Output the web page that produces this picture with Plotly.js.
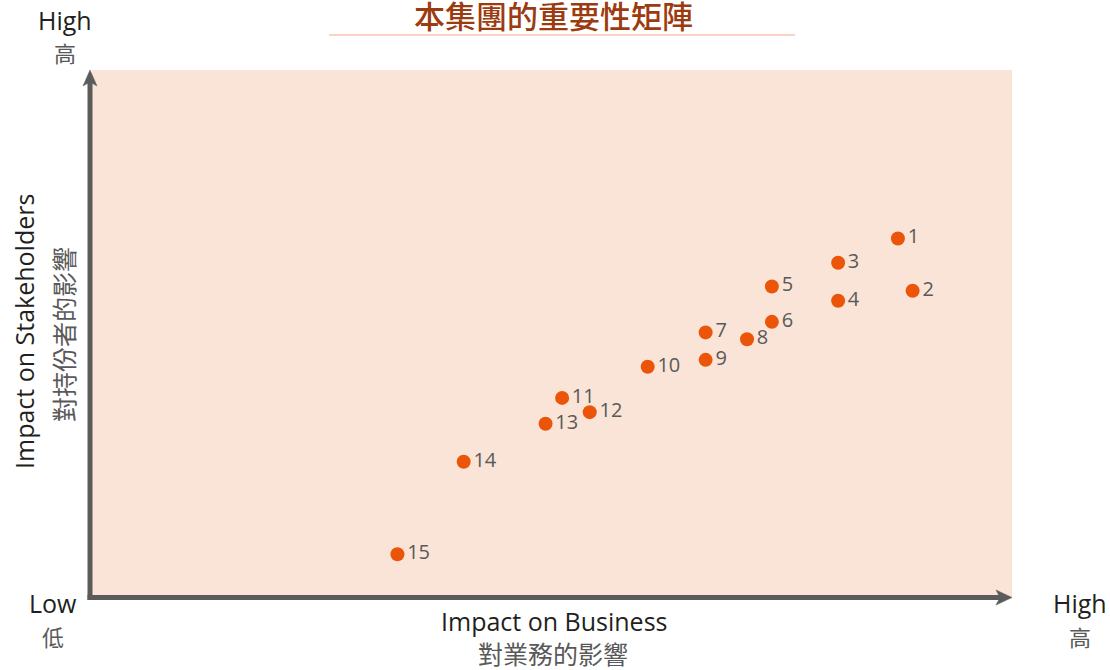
<!DOCTYPE html>
<html>
<head>
<meta charset="utf-8">
<script src="https://cdn.plot.ly/plotly-3.0.1.min.js"></script>
<style>
  html, body { margin: 0; padding: 0; background: #ffffff; }
  #chart { width: 1110px; height: 670px; }
</style>
</head>
<body>
<div id="chart"></div>
<script>
// ---- Data ----
const issueLabels = ['1','2','3','4','5','6','7','8','9','10','11','12','13','14','15'];
const impactOnBusiness = [87.6, 89.2, 81.1, 81.1, 73.9, 73.9, 66.7, 71.2, 66.7, 60.4, 51.1, 54.1, 49.3, 40.4, 33.2];
const impactOnStakeholders = [68.1, 58.2, 63.5, 56.3, 59.0, 52.3, 50.3, 49.0, 45.1, 43.8, 37.9, 35.2, 33.0, 25.8, 8.3];

const titleText = '本集團的重要性矩陣';
const xTitleEn = 'Impact on Business';
const xTitleZh = '對業務的影響';
const yTitleEn = 'Impact on Stakeholders';
const yTitleZh = '對持份者的影響';

// ---- Layout helpers (pixel -> paper) ----
const W = 1110, H = 670;
const L = 92, R = 1012, T = 70, B = 598;
const px = X => (X - L) / (R - L);
const py = Y => (B - Y) / (B - T);

const enFont = 'Open Sans, Noto Sans, sans-serif';
const zhFont = 'Noto Sans CJK TC, Noto Sans CJK SC, sans-serif';
const axisColor = '#5b5b5b';

const trace = {
  type: 'scatter',
  mode: 'markers+text',
  x: impactOnBusiness,
  y: impactOnStakeholders,
  text: issueLabels,
  textposition: 'middle right',
  textfont: { family: enFont, size: 20, color: '#595959' },
  marker: { size: 14, color: '#ea5509' },
  hoverinfo: 'skip',
  cliponaxis: false
};

function ann(X, Y, text, font, extra) {
  return Object.assign({
    xref: 'paper', yref: 'paper', x: px(X), y: py(Y),
    xanchor: 'center', yanchor: 'middle', showarrow: false,
    text: text, font: font
  }, extra || {});
}

const annotations = [
  ann(553, 15, titleText, { family: zhFont, size: 31, color: '#9c3b10', weight: 500 }),
  ann(65, 20, 'High', { family: enFont, size: 25, color: '#231f20' }),
  ann(65, 52, '高', { family: zhFont, size: 22, color: '#595959' }),
  ann(53, 603, 'Low', { family: enFont, size: 25, color: '#231f20' }),
  ann(53, 636, '低', { family: zhFont, size: 22, color: '#595959' }),
  ann(1080, 603, 'High', { family: enFont, size: 25, color: '#231f20' }),
  ann(1080, 636, '高', { family: zhFont, size: 22, color: '#595959' }),
  ann(554, 621, xTitleEn, { family: enFont, size: 25, color: '#231f20' }),
  ann(553, 653, xTitleZh, { family: zhFont, size: 25, color: '#595959' }),
  ann(24, 332, yTitleEn, { family: enFont, size: 25, color: '#231f20' }, { textangle: -90 }),
  ann(63, 335, yTitleZh, { family: zhFont, size: 25, color: '#595959' }, { textangle: -90 })
];

function pathFromPixels(points) {
  return 'M ' + points.map(p => px(p[0]) + ',' + py(p[1])).join(' L ') + ' Z';
}

const shapes = [
  // title underline
  { type: 'line', xref: 'paper', yref: 'paper', x0: px(329), x1: px(795), y0: py(35), y1: py(35),
    line: { color: '#f2a983', width: 1 } },
  // y axis shaft
  { type: 'line', xref: 'paper', yref: 'paper', x0: px(90), x1: px(90), y0: py(600), y1: py(82),
    line: { color: axisColor, width: 5 } },
  // x axis shaft
  { type: 'line', xref: 'paper', yref: 'paper', x0: px(87.5), x1: px(1000), y0: py(597.5), y1: py(597.5),
    line: { color: axisColor, width: 5 } },
  // up arrowhead
  { type: 'path', xref: 'paper', yref: 'paper',
    path: pathFromPixels([[90, 70], [97, 86], [90, 82], [83, 86]]),
    fillcolor: axisColor, line: { color: axisColor, width: 0.5 } },
  // right arrowhead
  { type: 'path', xref: 'paper', yref: 'paper',
    path: pathFromPixels([[1012, 597.5], [996, 605], [1000, 597.5], [996, 590]]),
    fillcolor: axisColor, line: { color: axisColor, width: 0.5 } }
];

const layout = {
  width: W, height: H,
  margin: { l: L, r: W - R, t: T, b: H - B, pad: 0 },
  paper_bgcolor: '#ffffff',
  plot_bgcolor: '#fae4d7',
  showlegend: false,
  xaxis: { range: [0, 100], showgrid: false, zeroline: false, showticklabels: false, ticks: '', showline: false, fixedrange: true },
  yaxis: { range: [0, 100], showgrid: false, zeroline: false, showticklabels: false, ticks: '', showline: false, fixedrange: true },
  annotations: annotations,
  shapes: shapes
};

Plotly.newPlot('chart', [trace], layout, { displayModeBar: false, staticPlot: true });
</script>
</body>
</html>
